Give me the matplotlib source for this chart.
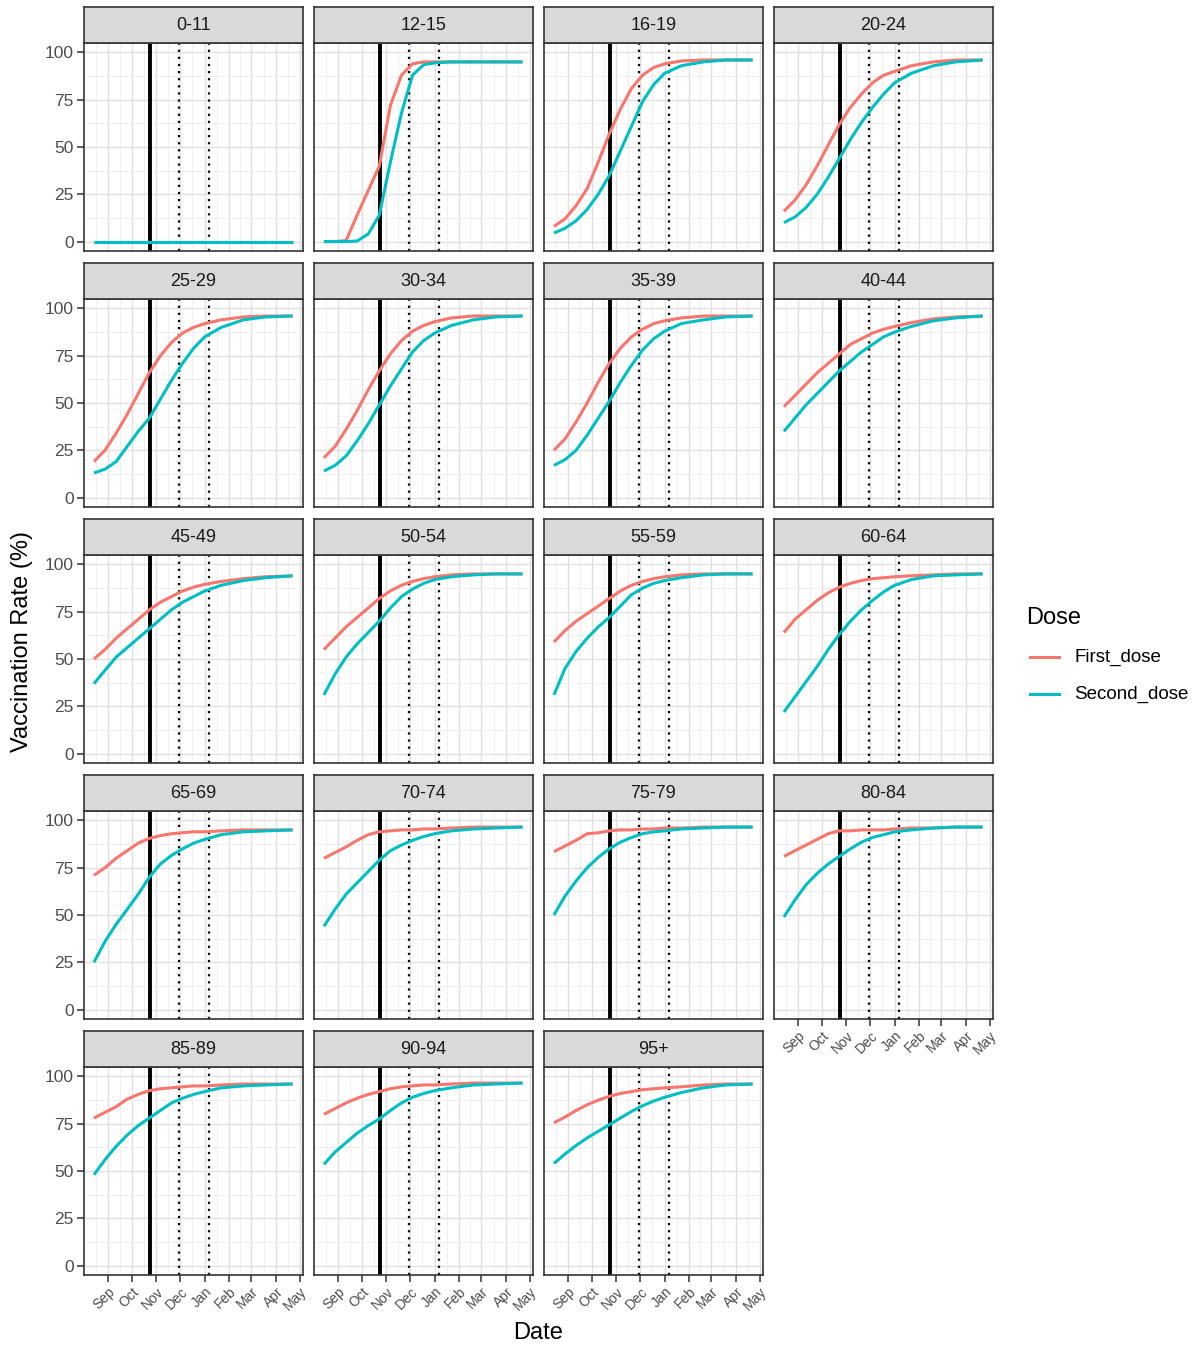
import matplotlib
matplotlib.use("Agg")
import matplotlib.pyplot as plt
import matplotlib.dates as mdates
from matplotlib.lines import Line2D
import pandas as pd
import numpy as np

plt.rcParams['font.family'] = ['Liberation Sans', 'DejaVu Sans']

# ---------------- data ----------------
sample_dates = ["2021-08-14", "2021-08-28", "2021-09-11", "2021-09-25", "2021-10-09",
                "2021-10-23", "2021-11-06", "2021-11-20", "2021-12-04", "2021-12-18",
                "2022-01-01", "2022-01-22", "2022-02-19", "2022-03-19", "2022-04-22"]

age_groups = ["0-11", "12-15", "16-19", "20-24", "25-29", "30-34", "35-39", "40-44",
              "45-49", "50-54", "55-59", "60-64", "65-69", "70-74", "75-79", "80-84",
              "85-89", "90-94", "95+"]

first_0_11 = [0, 0, 0, 0, 0, 0, 0, 0, 0, 0, 0, 0, 0, 0, 0]
second_0_11 = [0, 0, 0, 0, 0, 0, 0, 0, 0, 0, 0, 0, 0, 0, 0]
first_12_15 = [0, 0, 0.5, 14, 27, 40, 72, 88, 94, 95, 95, 95, 95, 95, 95]
second_12_15 = [0, 0, 0, 0.3, 4, 14, 42, 68, 88, 93.5, 94.5, 95, 95, 95, 95]
first_16_19 = [8, 12, 19, 28, 42, 57, 70, 81, 88, 92, 94, 95.5, 96, 96, 96]
second_16_19 = [4.5, 7, 11, 17, 25, 35, 48, 61, 74, 83, 89, 93, 95, 96, 96]
first_20_24 = [16, 22, 30, 40, 51, 62, 71, 78, 84, 88, 90, 93, 95, 96, 96]
second_20_24 = [10, 13, 18, 25, 34, 44, 54, 63, 71, 78, 84, 89, 93, 95, 96]
first_25_29 = [19, 25, 34, 44, 55, 66, 75, 82, 87, 90, 92, 94, 95.5, 96, 96]
second_25_29 = [13, 15, 19, 27, 35, 42, 52, 62, 71, 79, 85, 90, 94, 95.5, 96]
first_30_34 = [21, 27, 36, 46, 57, 67, 76, 83, 88, 91, 93, 95, 96, 96, 96]
second_30_34 = [14, 17, 22, 30, 39, 49, 59, 68, 77, 83, 87, 91, 94, 95.5, 96]
first_35_39 = [25, 31, 40, 50, 61, 71, 79, 85, 89, 92, 93.5, 95, 96, 96, 96]
second_35_39 = [17, 20, 25, 33, 42, 51, 61, 70, 78, 84, 88, 92, 94, 95.5, 96]
first_40_44 = [48, 54, 60, 66, 71, 76, 81, 84, 87, 89, 90.5, 92.5, 94.5, 95.5, 96]
second_40_44 = [35, 42, 49, 55, 61, 67, 72, 77, 81, 85, 87.5, 90.5, 93.5, 95, 96]
first_45_49 = [50, 55, 61, 66, 71, 76, 80, 83, 86, 88, 89.5, 91, 92.5, 93.5, 94]
second_45_49 = [37, 44, 51, 56, 61, 66, 71, 76, 80, 83, 86, 89, 91.5, 93, 94]
first_50_54 = [55, 61, 67, 72, 77, 82, 86, 89, 91, 92.5, 93.5, 94.5, 95, 95, 95]
second_50_54 = [31, 42, 51, 58, 64, 70, 77, 83, 87, 90, 92, 93.5, 94.5, 95, 95]
first_55_59 = [59, 65, 70, 74, 78, 82, 86, 89, 91, 92.5, 93.5, 94.5, 95, 95, 95]
second_55_59 = [31, 45, 54, 61, 67, 72, 78, 84, 87.5, 90, 91.5, 93, 94.5, 95, 95]
first_60_64 = [64, 71, 76, 81, 85, 88, 90, 91.5, 92.5, 93, 93.5, 94, 94.5, 95, 95]
second_60_64 = [22, 30, 38, 46, 55, 63, 70, 76, 81, 85.5, 89, 92, 94, 94.5, 95]
first_65_69 = [71, 75, 80, 84, 88, 90.5, 92, 93, 93.5, 94, 94, 94.5, 95, 95, 95]
second_65_69 = [25, 36, 45, 53, 61, 70, 77, 81.5, 85, 88, 90, 92.5, 94, 94.5, 95]
first_70_74 = [80, 83, 86, 89.5, 92.5, 94, 94.5, 95, 95, 95.5, 95.5, 96, 96.5, 96.5, 96.5]
second_70_74 = [44, 53, 61, 67, 73, 79, 84, 87, 89.5, 91.5, 93, 94.5, 95.5, 96, 96.5]
first_75_79 = [83.5, 86.5, 89.5, 93, 93.5, 94.5, 95, 95, 95.5, 95.5, 96, 96, 96.5, 96.5, 96.5]
second_75_79 = [50, 60, 68, 75, 80.5, 85, 88.5, 91, 93, 94, 94.5, 95.5, 96, 96.5, 96.5]
first_80_84 = [81, 84, 87, 90, 93, 94.5, 94.5, 95, 95, 95, 95.5, 96, 96, 96.5, 96.5]
second_80_84 = [49, 58, 66, 72, 77, 81, 85, 88.5, 91, 92.5, 94, 95, 96, 96.5, 96.5]
first_85_89 = [78, 81, 84, 88, 90.5, 92.5, 93.5, 94, 94.5, 95, 95, 95.5, 96, 96, 96]
second_85_89 = [48, 56, 63, 69, 74, 78, 82, 86, 88.5, 90.5, 92, 94, 95, 95.5, 96]
first_90_94 = [80, 83, 86, 88.5, 90.5, 92, 93.5, 94.5, 95, 95.5, 95.5, 96, 96.5, 96.5, 96.5]
second_90_94 = [53.5, 60, 65, 70, 74, 77.5, 82, 86, 89, 91, 92.5, 94, 95.5, 96, 96.5]
first_95p = [75.5, 78.5, 82, 85, 87.5, 89.5, 91, 92, 93, 93.5, 94, 94.5, 95.5, 96, 96]
second_95p = [54, 59, 63.5, 67.5, 71, 74.5, 78, 81.5, 84.5, 87, 89, 91.5, 94, 95.5, 96]

first_dose = [first_0_11, first_12_15, first_16_19, first_20_24, first_25_29, first_30_34,
              first_35_39, first_40_44, first_45_49, first_50_54, first_55_59, first_60_64,
              first_65_69, first_70_74, first_75_79, first_80_84, first_85_89, first_90_94,
              first_95p]
second_dose = [second_0_11, second_12_15, second_16_19, second_20_24, second_25_29,
               second_30_34, second_35_39, second_40_44, second_45_49, second_50_54,
               second_55_59, second_60_64, second_65_69, second_70_74, second_75_79,
               second_80_84, second_85_89, second_90_94, second_95p]

solid_line_date = "2021-10-24"
dotted_line_dates = ["2021-11-29", "2022-01-07"]

month_ticks = ["2021-09-01", "2021-10-01", "2021-11-01", "2021-12-01", "2022-01-01",
               "2022-02-01", "2022-03-01", "2022-04-01", "2022-05-01"]
month_labels = ["Sep", "Oct", "Nov", "Dec", "Jan", "Feb", "Mar", "Apr", "May"]
y_ticks = [0, 25, 50, 75, 100]

series_names = ["First_dose", "Second_dose"]
series_colors = ["#F8766D", "#00BFC4"]

# ---------------- layout ----------------
W, H = 1199, 1346
fig = plt.figure(figsize=(W / 100, H / 100), dpi=100)
fig.patch.set_facecolor("white")

col_left = [84, 314, 544, 774]
row_top = [43, 299, 555, 811, 1067]
pw, ph = 218.5, 208
strip_h = 36


def rect(l, t, w, h):
    return [l / W, 1 - (t + h) / H, w / W, h / H]


x_dates = mdates.date2num(pd.to_datetime(sample_dates))
xs, xe = x_dates[0], x_dates[-1]
span = xe - xs
xlim = (xs - 0.05 * span, xe + 0.05 * span)
tick_nums = mdates.date2num(pd.to_datetime(month_ticks))
minor_x = (tick_nums[:-1] + tick_nums[1:]) / 2.0
minor_x = np.concatenate([[tick_nums[0] - (tick_nums[1] - tick_nums[0]) / 2.0], minor_x])
solid_num = mdates.date2num(pd.Timestamp(solid_line_date))
dotted_nums = mdates.date2num(pd.to_datetime(dotted_line_dates))

border_col = "#333333"
text_grey = "#4D4D4D"
n = len(age_groups)
for i, grp in enumerate(age_groups):
    r, c = divmod(i, 4)
    l, t = col_left[c], row_top[r]
    ax = fig.add_axes(rect(l, t, pw, ph))
    ax.set_facecolor("white")
    ax.set_xlim(*xlim)
    ax.set_ylim(-5, 105)
    ax.set_xticks(tick_nums)
    ax.set_xticks(minor_x, minor=True)
    ax.set_yticks(y_ticks)
    ax.set_yticks([12.5, 37.5, 62.5, 87.5], minor=True)
    ax.grid(which="major", color="#E0E0E0", lw=1.0)
    ax.grid(which="minor", color="#EDEDED", lw=0.6)
    ax.set_axisbelow(True)
    for s in ax.spines.values():
        s.set_color(border_col)
        s.set_linewidth(1.2)

    ax.axvline(solid_num, color="black", lw=2.8, zorder=2)
    for dn in dotted_nums:
        ax.axvline(dn, color="black", lw=1.6, linestyle=(0, (1, 2.2)), zorder=2)

    ax.plot(x_dates, first_dose[i], color=series_colors[0], lw=2.2, zorder=3,
            solid_capstyle="butt")
    ax.plot(x_dates, second_dose[i], color=series_colors[1], lw=2.2, zorder=4,
            solid_capstyle="butt")

    show_y = (c == 0)
    show_x = (i + 4 >= n)
    ax.tick_params(axis="both", which="minor", length=0)
    ax.tick_params(axis="y", which="major", length=5 if show_y else 0,
                   color=border_col, width=1.1, labelsize=12.5, labelcolor=text_grey,
                   pad=2.5, labelleft=show_y)
    ax.tick_params(axis="x", which="major", length=5 if show_x else 0,
                   color=border_col, width=1.1, labelsize=10, labelcolor=text_grey,
                   pad=2, labelbottom=show_x)
    if show_x:
        ax.set_xticklabels(month_labels, rotation=45, ha="right", va="top",
                           rotation_mode="anchor")
    else:
        ax.set_xticklabels([])

    # strip
    sax = fig.add_axes(rect(l, t - strip_h, pw, strip_h))
    sax.set_facecolor("#D9D9D9")
    sax.set_xticks([])
    sax.set_yticks([])
    for s in sax.spines.values():
        s.set_color(border_col)
        s.set_linewidth(1.2)
    sax.text(0.5, 0.5, grp, ha="center", va="center", fontsize=13, color="#1A1A1A",
             transform=sax.transAxes)

# axis titles
fig.text(538 / W, 1 - 1333 / H, "Date", ha="center", va="center", fontsize=17,
         color="black")
fig.text(22 / W, 1 - 641 / H, "Vaccination Rate (%)", ha="center", va="center",
         rotation=90, fontsize=17, color="black")

# legend
fig.text(1026 / W, 1 - 618 / H, "Dose", ha="left", va="center", fontsize=17,
         color="black")
legend_y = [657, 694]
for name, col, yy in zip(series_names, series_colors, legend_y):
    fig.add_artist(Line2D([1030 / W, 1059 / W], [1 - yy / H, 1 - yy / H], color=col,
                          lw=2.2, transform=fig.transFigure))
    fig.text(1074 / W, 1 - yy / H, name, ha="left", va="center", fontsize=13.5,
             color="black")

fig.savefig("out.png", dpi=100)
